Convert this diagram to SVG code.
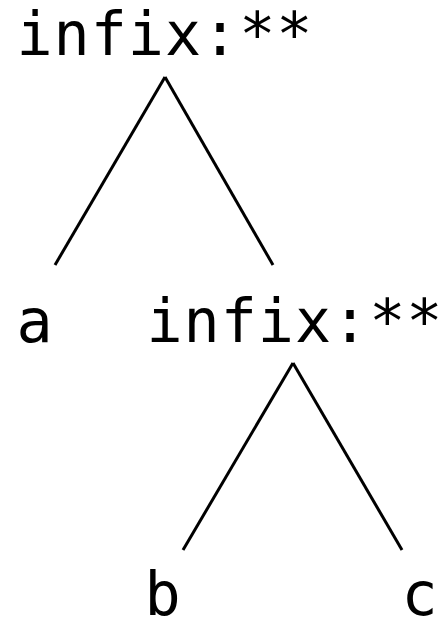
<svg xmlns="http://www.w3.org/2000/svg" width="447" height="620" viewBox="0 0 447 620">
<style>
text{font-family:"DejaVu Sans Mono","Liberation Mono",monospace;font-size:60px;fill:#000;text-anchor:middle;letter-spacing:1px}
.e{stroke:#000;stroke-width:3;fill:none}
</style>
<rect width="447" height="620" fill="#fff"/>
<g id="edges">
<line class="e" x1="165" y1="77" x2="55" y2="265"/>
<line class="e" x1="165" y1="77" x2="273" y2="265"/>
<line class="e" x1="293" y1="363" x2="183" y2="550"/>
<line class="e" x1="293" y1="363" x2="402" y2="550"/>
</g>
<g id="n1"><text x="165" y="55">infix:**</text></g>
<g id="n2"><text x="35" y="342">a</text></g>
<g id="n3"><text x="295" y="342">infix:**</text></g>
<g id="n4"><text x="163" y="615">b</text></g>
<g id="n5"><text x="420" y="615">c</text></g>
</svg>
